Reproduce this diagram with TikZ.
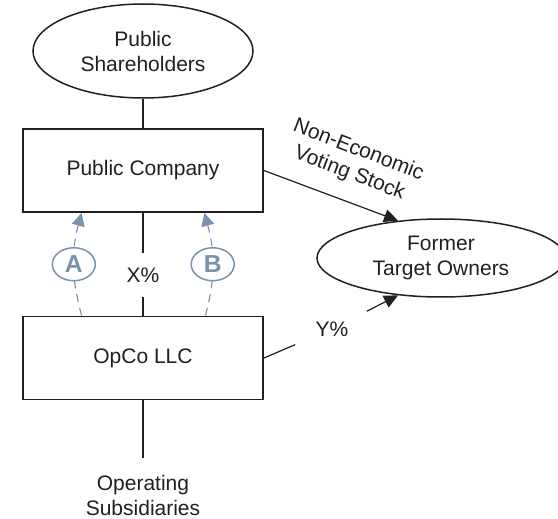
\documentclass[tikz,border=0pt]{standalone}
\usepackage{fontspec}
\setmainfont{Liberation Sans}
\usetikzlibrary{arrows.meta,shapes.geometric,calc}
\definecolor{ink}{RGB}{35,31,32}
\definecolor{steel}{RGB}{122,146,172}
\begin{document}
\begin{tikzpicture}[x=0.5pt,y=-0.5pt,
  font=\fontsize{10.5}{12.5}\selectfont, text=ink,
  box/.style={draw=ink, line width=0.9pt, minimum width=120pt, minimum height=41.5pt, inner sep=0pt},
  oval/.style={draw=ink, line width=0.75pt, ellipse, inner sep=0pt, align=center},
  conn/.style={draw=ink, line width=0.6pt},
  tip/.style={-{Triangle[length=7pt,width=6.5pt]}},
  opt/.style={draw=steel, line width=0.55pt, dash pattern=on 4pt off 3pt, -{Triangle[length=6.5pt,width=6.5pt]}},
  optlbl/.style={ellipse, draw=steel, solid, line width=0.75pt, fill=white, minimum width=21.5pt, minimum height=16.5pt, inner sep=0pt, text=steel, font=\fontsize{12.3}{14}\selectfont\bfseries}
]
\useasboundingbox (0,0) rectangle (558,519);

\node[oval, minimum width=110pt, minimum height=47pt] (pubsh) at (143,51) {Public\\Shareholders};
\node[box] (pubco) at (143,170.5) {Public Company};
\node[box] (opco) at (143,358) {OpCo LLC};
\node[oval, minimum width=124pt, minimum height=39pt] (fto) at (441,258) {Former\\Target Owners};
\node[align=center] (opsub) at (143,495) {Operating\\Subsidiaries};
\coordinate (opsubtop) at (143,458);

\node[inner ysep=7pt] (xlab) at (143,275) {X\%};
\node[inner xsep=10pt, inner ysep=5pt] (ylab) at (332,329) {Y\%};
\node[rotate=-21, align=center] (nelbl) at (354,162) {Non-Economic\\Voting Stock};

\draw[conn] (pubsh) -- (pubco);
\draw[conn] (pubco) -- (xlab);
\draw[conn] (xlab) -- (opco);
\draw[conn] (opco) -- (opsubtop);
\draw[conn, tip] (pubco.east) -- (fto.139);
\draw[conn] (opco.east) -- (ylab);
\draw[conn, tip] (ylab) -- (fto.221);

\coordinate (a1) at ($(opco.north west)!0.246!(opco.north east)$);
\coordinate (a2) at ($(pubco.south west)!0.246!(pubco.south east)$);
\coordinate (b1) at ($(opco.north west)!0.758!(opco.north east)$);
\coordinate (b2) at ($(pubco.south west)!0.754!(pubco.south east)$);
\draw[opt] (a1) to[out=105,in=255] node[optlbl] (alab) {A} (a2);
\draw[opt] (b1) to[out=75,in=285] node[optlbl] (blab) {B} (b2);
\end{tikzpicture}
\end{document}
